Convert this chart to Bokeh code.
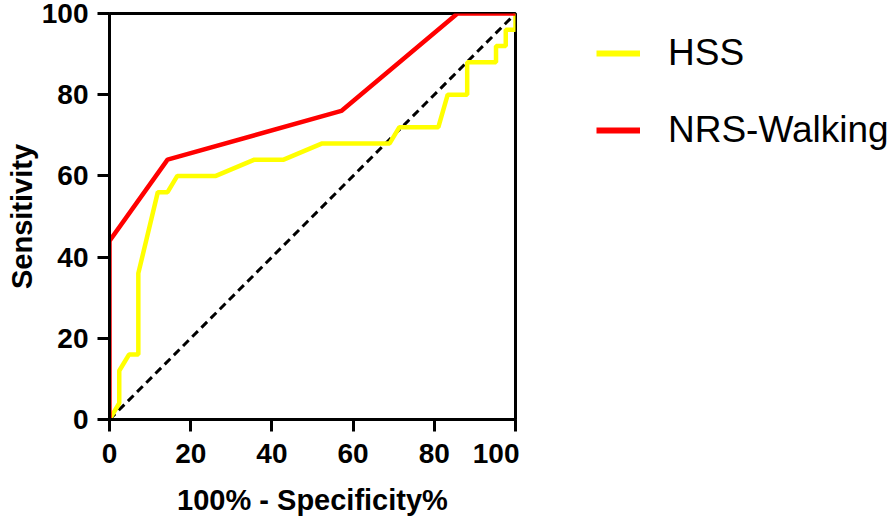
from bokeh.plotting import figure
from bokeh.models import Range1d, FixedTicker, Legend, LegendItem
from bokeh.layouts import row
from bokeh.embed import file_html
from bokeh.resources import INLINE

# ROC data (100% - Specificity%, Sensitivity)
hss_x = [0, 2.4, 2.4, 4.8, 7.1, 7.1, 11.9, 14.3, 16.7, 26.2, 35.7, 42.9, 52.4,
         69.0, 71.4, 81.0, 83.3, 88.1, 88.1, 95.2, 95.2, 97.6, 97.6, 100, 100]
hss_y = [0, 4, 12, 16, 16, 36, 56, 56, 60, 60, 64, 64, 68,
         68, 72, 72, 80, 80, 88, 88, 92, 92, 96, 96, 100]

nrs_x = [0, 0, 14.3, 57.1, 85.7, 100]
nrs_y = [0, 44, 64, 76, 100, 100]

diag_x = [0, 100]
diag_y = [0, 100]

ticks = [0, 20, 40, 60, 80, 100]
series_names = ["HSS", "NRS-Walking"]
series_colors = ["#FFFF00", "#FF0000"]
series_x = [hss_x, nrs_x]
series_y = [hss_y, nrs_y]

p = figure(width=519, height=520, output_backend="svg", toolbar_location=None,
           x_range=Range1d(0, 100), y_range=Range1d(0, 100),
           min_border_left=109, min_border_right=4,
           min_border_top=13, min_border_bottom=101)

p.xgrid.visible = False
p.ygrid.visible = False
p.background_fill_color = "white"
p.border_fill_color = "white"
p.outline_line_color = "black"
p.outline_line_width = 3

p.line(diag_x, diag_y, line_color="black", line_width=3, line_dash="8 5")
for xs, ys, col in zip(series_x, series_y, series_colors):
    p.line(xs, ys, line_color=col, line_width=4.5)

for ax in (p.xaxis[0], p.yaxis[0]):
    ax.ticker = FixedTicker(ticks=ticks)
    ax.axis_line_width = 3
    ax.axis_line_color = "black"
    ax.major_tick_line_width = 3
    ax.major_tick_out = 12
    ax.major_tick_in = 0
    ax.minor_tick_out = 0
    ax.minor_tick_in = 0
    ax.major_label_text_font = "Liberation Sans"
    ax.major_label_text_font_style = "bold"
    ax.major_label_text_font_size = "28px"
    ax.major_label_text_color = "black"
    ax.axis_label_text_font = "Liberation Sans"
    ax.axis_label_text_font_style = "bold"
    ax.axis_label_text_font_size = "29px"
    ax.axis_label_text_color = "black"

p.xaxis[0].axis_label = "100% - Specificity%"
p.xaxis[0].major_label_standoff = 12
p.xaxis[0].axis_label_standoff = 18
p.yaxis[0].axis_label = "Sensitivity"
p.yaxis[0].major_label_standoff = 9
p.yaxis[0].axis_label_standoff = 1

# legend panel; its frame is aligned with the main frame
p2 = figure(width=375, height=520, output_backend="svg", toolbar_location=None,
            x_range=Range1d(1000, 1001), y_range=Range1d(1000, 1001),
            x_axis_type=None, y_axis_type=None,
            min_border_left=58, min_border_right=0,
            min_border_top=13, min_border_bottom=101)
p2.xgrid.visible = False
p2.ygrid.visible = False
p2.outline_line_color = None
p2.background_fill_color = "white"
p2.border_fill_color = "white"

items = []
for name, xs, ys, col in zip(series_names, series_x, series_y, series_colors):
    r = p2.line(xs, ys, line_color=col, line_width=6)
    items.append(LegendItem(label=name, renderers=[r]))

legend = Legend(items=items, location="top_left")
legend.padding = 0
legend.margin = 19
legend.spacing = 35
legend.glyph_width = 44
legend.glyph_height = 40
legend.label_height = 40
legend.label_standoff = 28
legend.label_text_font = "Liberation Sans"
legend.label_text_font_size = "37px"
legend.label_text_color = "black"
legend.border_line_color = None
legend.background_fill_alpha = 0
p2.add_layout(legend, "center")

layout = row(p, p2)
open("out.html", "w").write(file_html(layout, INLINE))
